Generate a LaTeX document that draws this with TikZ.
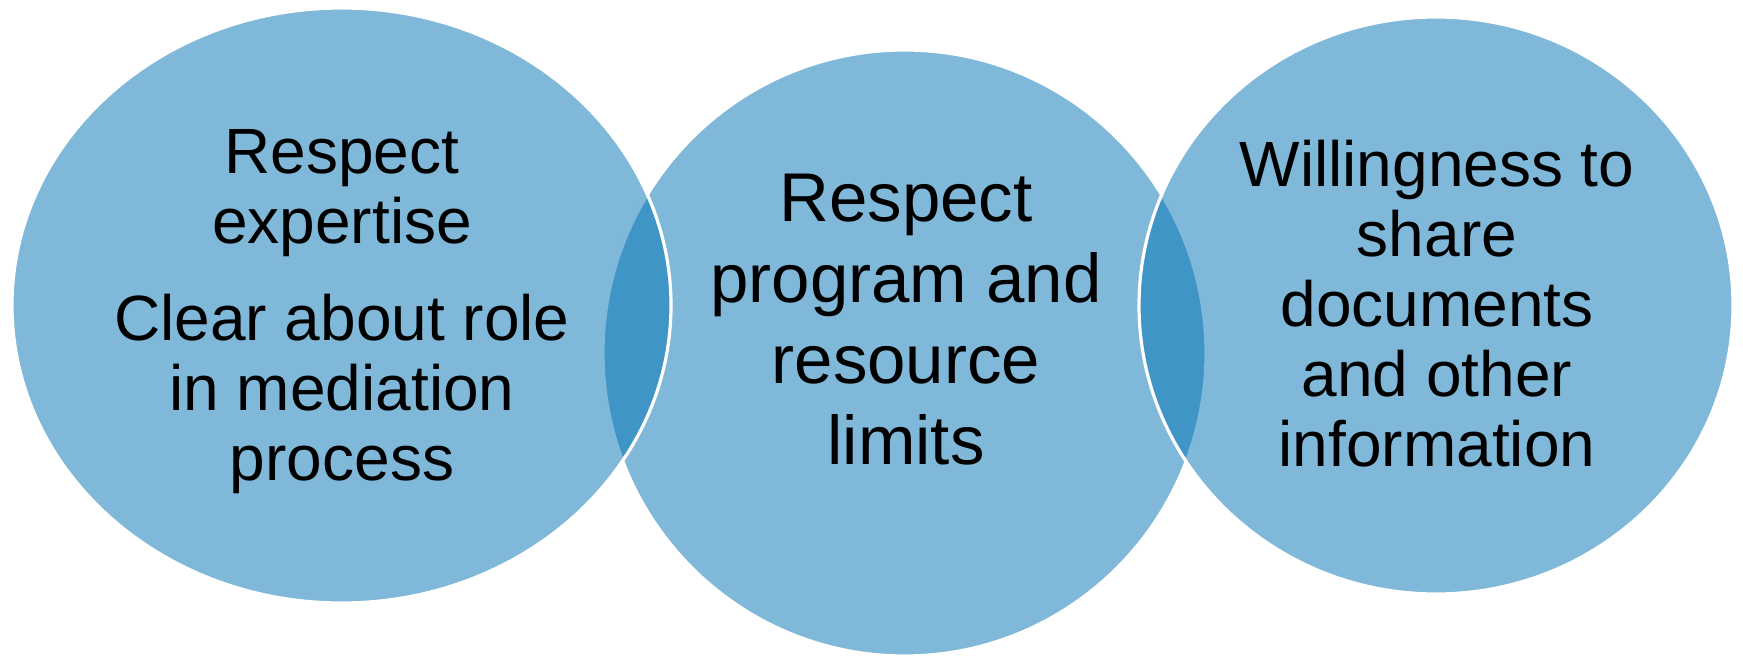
\documentclass[tikz,border=0pt]{standalone}
\usepackage{fontspec}
\setmainfont{Liberation Sans}
\usetikzlibrary{positioning}
\definecolor{vennblue}{RGB}{0,114,178}

\begin{document}
\begin{tikzpicture}[x=0.5pt,y=-0.5pt]
% define shape and text types
\tikzstyle{venn}=[fill=vennblue, fill opacity=0.5, draw=white, line width=1.6pt]
\tikzstyle{txt}=[align=center, inner sep=0pt, text=black,
    font=\fontsize{32}{35}\selectfont]
\tikzstyle{bigtxt}=[align=center, inner sep=0pt, text=black,
    font=\fontsize{34.5}{40.5}\selectfont]
\useasboundingbox (0,0) rectangle (1743,658);
% circles, middle one first so it lies below
\draw[venn] (904.5,353) ellipse [x radius=301.5, y radius=303];
\draw[venn] (341.5,305.5) ellipse [x radius=329.5, y radius=297.5];
\draw[venn] (1436,305.5) ellipse [x radius=297, y radius=288.5];
% texts
\node[txt] (expertise) at (342,311.5)
    {Respect\\expertise\\[13.5pt]Clear about role\\in mediation\\process};
\node[bigtxt] (limits) at (906,320)
    {Respect\\program and\\resource\\limits};
\node[txt] (sharing) at (1437,304)
    {Willingness to\\share\\documents\\and other\\information};
\end{tikzpicture}
\end{document}
